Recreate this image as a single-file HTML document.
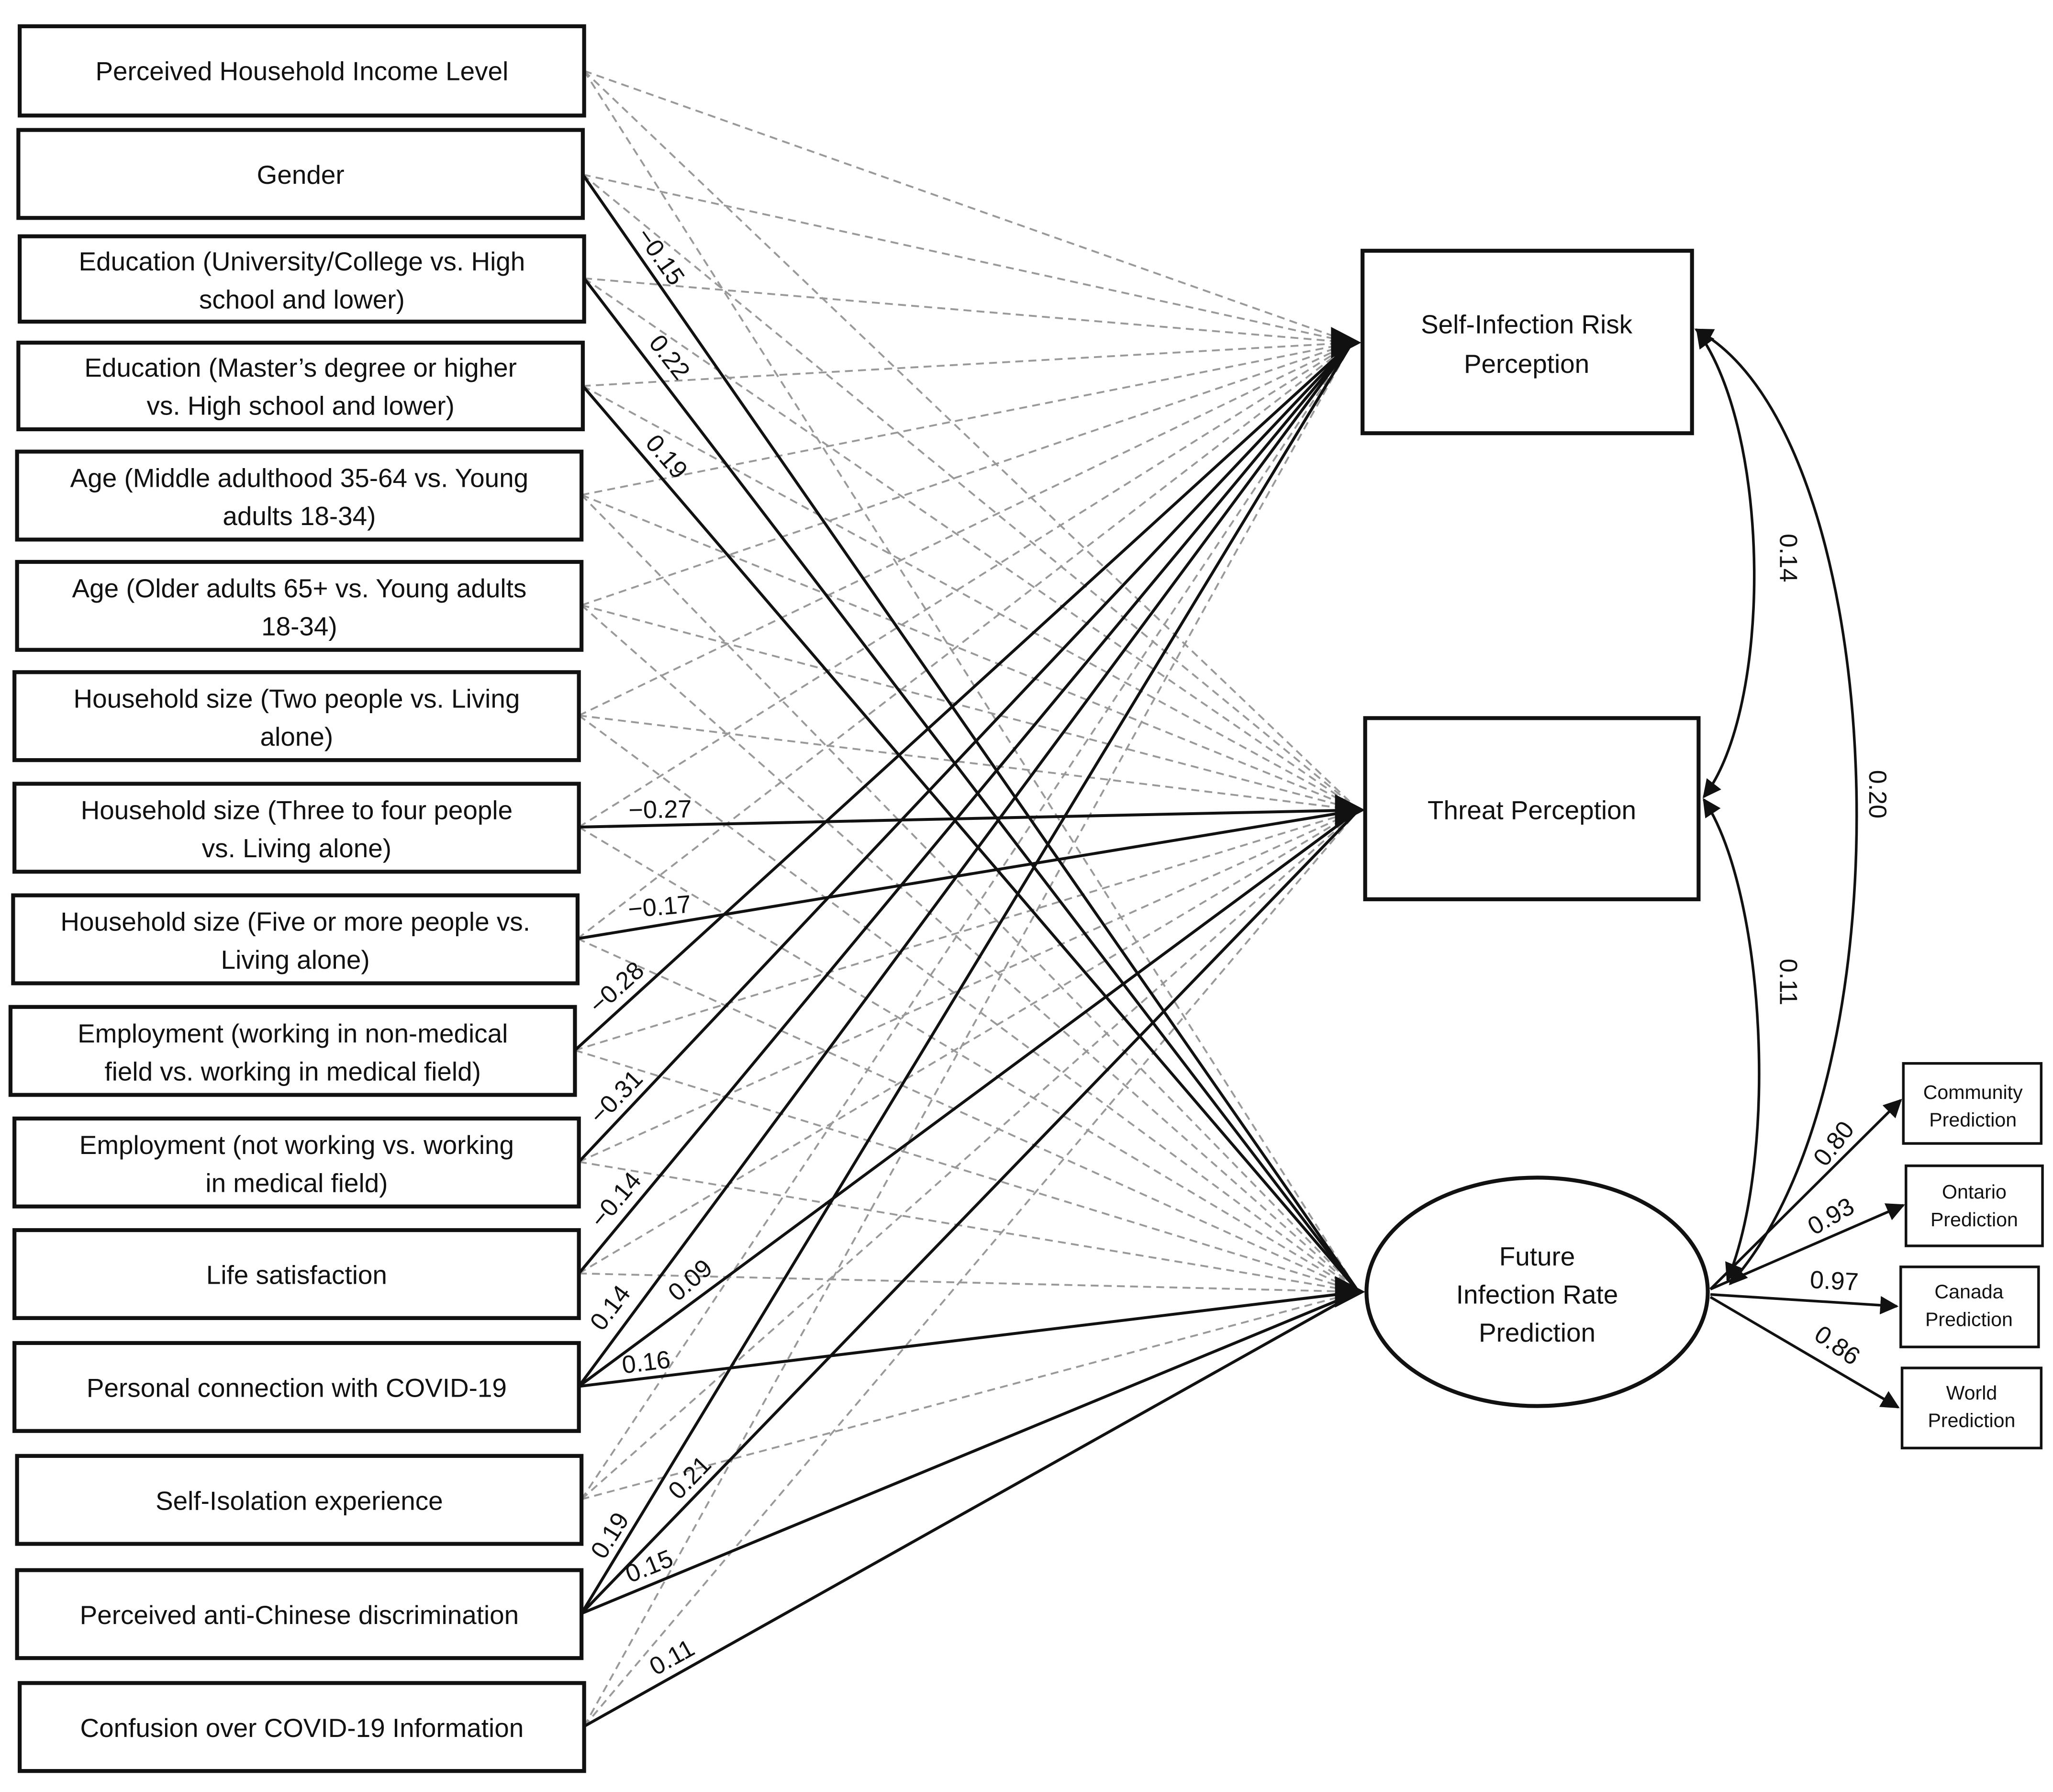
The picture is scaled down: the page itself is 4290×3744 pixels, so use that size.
<!DOCTYPE html>
<html><head><meta charset="utf-8"><style>
html,body{margin:0;padding:0;background:#fff;}
svg{display:block;}
text{font-family:"Liberation Sans",sans-serif;fill:#111;}
</style></head><body>
<svg width="4290" height="3744" viewBox="0 0 1564 1365" preserveAspectRatio="none" xmlns="http://www.w3.org/2000/svg">
<defs>
<marker id="ah" viewBox="0 0 10 10" refX="9" refY="5" markerWidth="7" markerHeight="7" orient="auto-start-reverse" markerUnits="strokeWidth"><path d="M0,0 L10,5 L0,10 z" fill="#111"/></marker>
</defs>
<g stroke="#999" stroke-width="1.4" stroke-dasharray="6,4" fill="none">
<line x1="445" y1="54" x2="1030" y2="261"/><line x1="445" y1="54" x2="1035" y2="617"/><line x1="445" y1="54" x2="1035" y2="984"/>
<line x1="444" y1="133" x2="1030" y2="261"/><line x1="444" y1="133" x2="1035" y2="617"/>
<line x1="445" y1="212" x2="1030" y2="261"/><line x1="445" y1="212" x2="1035" y2="617"/>
<line x1="444" y1="294" x2="1030" y2="261"/><line x1="444" y1="294" x2="1035" y2="617"/>
<line x1="443" y1="377" x2="1030" y2="261"/><line x1="443" y1="377" x2="1035" y2="617"/><line x1="443" y1="377" x2="1035" y2="984"/>
<line x1="443" y1="461" x2="1030" y2="261"/><line x1="443" y1="461" x2="1035" y2="617"/><line x1="443" y1="461" x2="1035" y2="984"/>
<line x1="441" y1="545" x2="1030" y2="261"/><line x1="441" y1="545" x2="1035" y2="617"/><line x1="441" y1="545" x2="1035" y2="984"/>
<line x1="441" y1="630" x2="1030" y2="261"/><line x1="441" y1="630" x2="1035" y2="984"/>
<line x1="440" y1="715" x2="1030" y2="261"/><line x1="440" y1="715" x2="1035" y2="984"/>
<line x1="438" y1="800" x2="1035" y2="617"/><line x1="438" y1="800" x2="1035" y2="984"/>
<line x1="441" y1="885" x2="1035" y2="617"/><line x1="441" y1="885" x2="1035" y2="984"/>
<line x1="441" y1="970" x2="1035" y2="617"/><line x1="441" y1="970" x2="1035" y2="984"/>
<line x1="443" y1="1142" x2="1030" y2="261"/><line x1="443" y1="1142" x2="1035" y2="617"/><line x1="443" y1="1142" x2="1035" y2="984"/>
<line x1="445" y1="1315" x2="1030" y2="261"/><line x1="445" y1="1315" x2="1035" y2="617"/>
</g>
<g stroke="#111" stroke-width="2.2" fill="none">
<line x1="444" y1="133" x2="1035" y2="984"/>
<line x1="445" y1="212" x2="1035" y2="984"/>
<line x1="444" y1="294" x2="1035" y2="984"/>
<line x1="441" y1="630" x2="1035" y2="617"/>
<line x1="440" y1="715" x2="1035" y2="617"/>
<line x1="438" y1="800" x2="1030" y2="261"/>
<line x1="441" y1="885" x2="1030" y2="261"/>
<line x1="441" y1="970" x2="1030" y2="261"/>
<line x1="441" y1="1056" x2="1030" y2="261"/>
<line x1="441" y1="1056" x2="1035" y2="617"/>
<line x1="441" y1="1056" x2="1035" y2="984"/>
<line x1="443" y1="1229" x2="1030" y2="261"/>
<line x1="443" y1="1229" x2="1035" y2="617"/>
<line x1="443" y1="1229" x2="1035" y2="984"/>
<line x1="445" y1="1315" x2="1035" y2="984"/>
</g>
<g fill="#111">
<path d="M1014,249 L1037,261 L1014,273 z"/>
<path d="M1017,605 L1040,617 L1017,629 z"/>
<path d="M1017,972 L1040,984 L1017,996 z"/>
</g>
<g fill="#fff" stroke="#111" stroke-width="3">
<rect x="15" y="20" width="430" height="68"/>
<rect x="14" y="99" width="430" height="67"/>
<rect x="15" y="180" width="430" height="65"/>
<rect x="14" y="261" width="430" height="66"/>
<rect x="13" y="344" width="430" height="67"/>
<rect x="13" y="428" width="430" height="67"/>
<rect x="11" y="512" width="430" height="67"/>
<rect x="11" y="597" width="430" height="67"/>
<rect x="10" y="682" width="430" height="67"/>
<rect x="8" y="767" width="430" height="67"/>
<rect x="11" y="852" width="430" height="67"/>
<rect x="11" y="937" width="430" height="67"/>
<rect x="11" y="1023" width="430" height="67"/>
<rect x="13" y="1109" width="430" height="67"/>
<rect x="13" y="1196" width="430" height="67"/>
<rect x="15" y="1282" width="430" height="67"/>
<rect x="1038" y="191" width="251" height="139"/>
<rect x="1040" y="547" width="254" height="138"/>
<ellipse cx="1171" cy="984" rx="130" ry="87"/>
</g>
<g fill="#fff" stroke="#111" stroke-width="2">
<rect x="1450" y="810" width="105" height="61"/>
<rect x="1452" y="888" width="104" height="61"/>
<rect x="1448" y="965" width="105" height="61"/>
<rect x="1449" y="1042" width="106" height="61"/>
</g>
<g font-size="20" text-anchor="middle">
<text x="230" y="61">Perceived Household Income Level</text>
<text x="229" y="140">Gender</text>
<text x="230" y="206">Education (University/College vs. High</text><text x="230" y="235">school and lower)</text>
<text x="229" y="287">Education (Master’s degree or higher</text><text x="229" y="316">vs. High school and lower)</text>
<text x="228" y="371">Age (Middle adulthood 35-64 vs. Young</text><text x="228" y="400">adults 18-34)</text>
<text x="228" y="455">Age (Older adults 65+ vs. Young adults</text><text x="228" y="484">18-34)</text>
<text x="226" y="539">Household size (Two people vs. Living</text><text x="226" y="568">alone)</text>
<text x="226" y="624">Household size (Three to four people</text><text x="226" y="653">vs. Living alone)</text>
<text x="225" y="709">Household size (Five or more people vs.</text><text x="225" y="738">Living alone)</text>
<text x="223" y="794">Employment (working in non-medical</text><text x="223" y="823">field vs. working in medical field)</text>
<text x="226" y="879">Employment (not working vs. working</text><text x="226" y="908">in medical field)</text>
<text x="226" y="978">Life satisfaction</text>
<text x="226" y="1064">Personal connection with COVID-19</text>
<text x="228" y="1150">Self-Isolation experience</text>
<text x="228" y="1237">Perceived anti-Chinese discrimination</text>
<text x="230" y="1323">Confusion over COVID-19 Information</text>
<text x="1163" y="254">Self-Infection Risk</text><text x="1163" y="284">Perception</text>
<text x="1167" y="624">Threat Perception</text>
<text x="1171" y="964">Future</text><text x="1171" y="993">Infection Rate</text><text x="1171" y="1022">Prediction</text>
</g>
<g font-size="15" text-anchor="middle">
<text x="1503" y="837">Community</text><text x="1503" y="858">Prediction</text>
<text x="1504" y="913">Ontario</text><text x="1504" y="934">Prediction</text>
<text x="1500" y="989">Canada</text><text x="1500" y="1010">Prediction</text>
<text x="1502" y="1066">World</text><text x="1502" y="1087">Prediction</text>
</g>
<g stroke="#111" stroke-width="2" fill="none">
<path d="M1293,252 C1350,330 1350,540 1298,607" marker-start="url(#ah)" marker-end="url(#ah)"/>
<path d="M1298,609 C1345,680 1355,880 1316,975" marker-start="url(#ah)" marker-end="url(#ah)"/>
<path d="M1292,251 C1440,330 1460,820 1318,978" marker-start="url(#ah)" marker-end="url(#ah)"/>
<line x1="1303" y1="982" x2="1448" y2="838" marker-end="url(#ah)"/>
<line x1="1303" y1="982" x2="1450" y2="918" marker-end="url(#ah)"/>
<line x1="1303" y1="986" x2="1445" y2="995" marker-end="url(#ah)"/>
<line x1="1303" y1="988" x2="1446" y2="1072" marker-end="url(#ah)"/>
</g>
<g font-size="19" text-anchor="middle">
<text transform="translate(498,199) rotate(55)">−0.15</text>
<text transform="translate(505,276) rotate(52)">0.22</text>
<text transform="translate(503,352) rotate(49)">0.19</text>
<text transform="translate(503,623) rotate(-1)">−0.27</text>
<text transform="translate(503,697) rotate(-5)">−0.17</text>
<text transform="translate(474,757) rotate(-42)">−0.28</text>
<text transform="translate(474,840) rotate(-46)">−0.31</text>
<text transform="translate(474,918) rotate(-50)">−0.14</text>
<text transform="translate(470,1000) rotate(-53)">0.14</text>
<text transform="translate(530,980) rotate(-41)">0.09</text>
<text transform="translate(493,1044) rotate(-7)">0.16</text>
<text transform="translate(530,1130) rotate(-46)">0.21</text>
<text transform="translate(470,1173) rotate(-58)">0.19</text>
<text transform="translate(497,1199) rotate(-22)">0.15</text>
<text transform="translate(515,1268) rotate(-29)">0.11</text>
<text transform="translate(1356,425) rotate(90)">0.14</text>
<text transform="translate(1356,748) rotate(90)">0.11</text>
<text transform="translate(1424,605) rotate(90)">0.20</text>
<text transform="translate(1402,875) rotate(-52)">0.80</text>
<text transform="translate(1398,932) rotate(-30)">0.93</text>
<text transform="translate(1397,982) rotate(3)">0.97</text>
<text transform="translate(1396,1030) rotate(35)">0.86</text>
</g>
</svg>
</body></html>
